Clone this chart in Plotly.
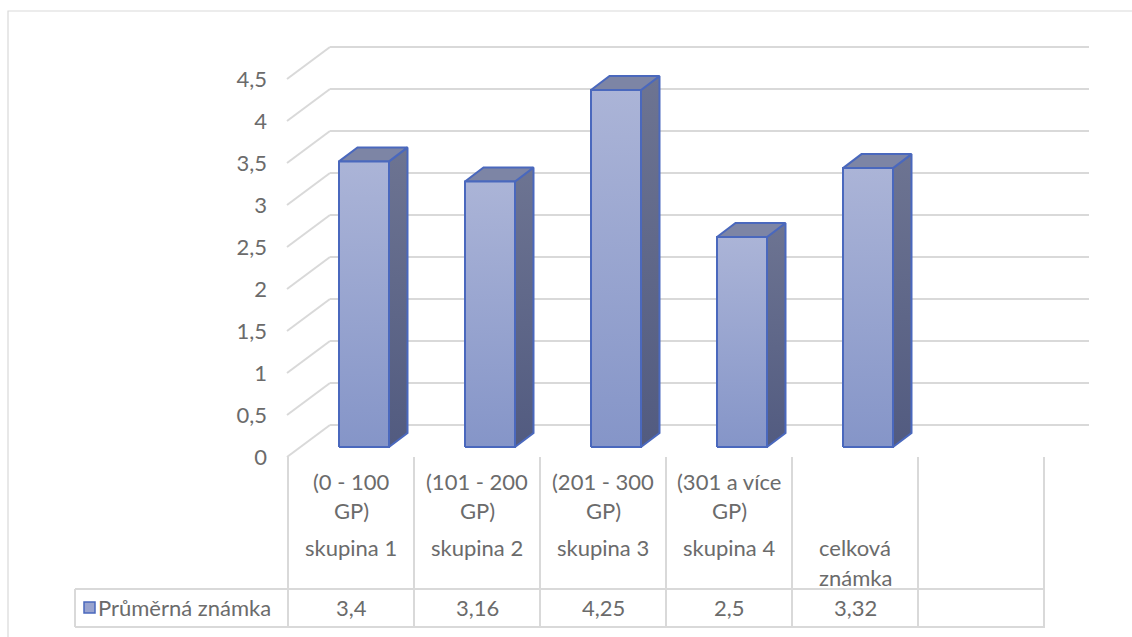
import plotly.graph_objects as go

# ---------------- data ----------------
series_name = "Průměrná známka"
cat_group = ["(0 - 100 GP)", "(101 - 200 GP)", "(201 - 300 GP)", "(301 a více GP)", ""]
cat_name = ["skupina 1", "skupina 2", "skupina 3", "skupina 4", "celková známka"]
values = [3.4, 3.16, 4.25, 2.5, 3.32]
value_labels = ["3,4", "3,16", "4,25", "2,5", "3,32"]
y_ticks = [0, 0.5, 1, 1.5, 2, 2.5, 3, 3.5, 4, 4.5]
n_slots = 6  # one empty slot at the end of the category axis

# ---------------- geometry (pixels) ----------------
W, H = 1132, 637
X0PX, SLOT = 364, 126        # centre of first bar front plane, slot width
Y0PX, UNIT = 447, 84         # baseline of bar front plane, px per unit


def X(px):
    return (px - X0PX) / SLOT


def Y(py):
    return (Y0PX - py) / UNIT


FONT = "Lato"
TXT = "#6b6b6b"
GRID = "#d9d9d9"
EDGE = "#4a68bd"

FLOOR_L, FLOOR_R = 287, 1044   # front floor edge (px)
BACK_L, BACK_R = 330, 1089     # back wall (px)
FLOOR_Y, BACK_Y = 457, 425     # y px for value 0
BAR_HALF = 25
DX, DY = 18.5, 14

fig = go.Figure()
shapes = []
annotations = []

# back wall gridlines and side wall diagonals
for t in y_ticks:
    yb = Y(BACK_Y - UNIT * t)
    yf = Y(FLOOR_Y - UNIT * t)
    shapes.append(dict(type="line", xref="x", yref="y", x0=X(BACK_L), x1=X(BACK_R),
                       y0=yb, y1=yb, line=dict(color=GRID, width=2), layer="below"))
    shapes.append(dict(type="line", xref="x", yref="y", x0=X(FLOOR_L), x1=X(BACK_L),
                       y0=yf, y1=yb, line=dict(color=GRID, width=2), layer="below"))

# bars
h = BAR_HALF / SLOT
dx = DX / SLOT
dy = DY / UNIT
for i, v in enumerate(values):
    # side face
    fig.add_trace(go.Scatter(
        x=[i + h, i + h + dx, i + h + dx, i + h, i + h],
        y=[0, dy, v + dy, v, 0], mode="lines", fill="toself",
        fillgradient=dict(type="vertical", colorscale=[[0, "#525b80"], [1, "#6d7492"]]),
        line=dict(color=EDGE, width=2), hoverinfo="skip", showlegend=False))
    # top face
    fig.add_trace(go.Scatter(
        x=[i - h, i + h, i + h + dx, i - h + dx, i - h],
        y=[v, v, v + dy, v + dy, v], mode="lines", fill="toself",
        fillcolor="#7d85a5", line=dict(color=EDGE, width=2),
        hoverinfo="skip", showlegend=False))
    # front face
    fig.add_trace(go.Scatter(
        x=[i - h, i + h, i + h, i - h, i - h],
        y=[0, 0, v, v, 0], mode="lines", fill="toself",
        fillgradient=dict(type="vertical", colorscale=[[0, "#8595c8"], [1, "#abb4d7"]]),
        line=dict(color=EDGE, width=2), hoverinfo="skip", showlegend=False,
        name=series_name))

# data table grid
TBL_TOP, TBL_BOT, TBL_LEFT = 589, 627, 75
for k in range(n_slots + 1):
    xp = FLOOR_L + 1 + SLOT * k
    shapes.append(dict(type="line", xref="x", yref="y", x0=X(xp), x1=X(xp),
                       y0=Y(FLOOR_Y), y1=Y(TBL_BOT), line=dict(color=GRID, width=2)))
for yp in (TBL_TOP, TBL_BOT):
    shapes.append(dict(type="line", xref="x", yref="y", x0=X(TBL_LEFT), x1=X(FLOOR_R + 1),
                       y0=Y(yp), y1=Y(yp), line=dict(color=GRID, width=2)))
shapes.append(dict(type="line", xref="x", yref="y", x0=X(TBL_LEFT), x1=X(TBL_LEFT),
                   y0=Y(TBL_TOP), y1=Y(TBL_BOT), line=dict(color=GRID, width=2)))

# legend key in table
shapes.append(dict(type="rect", xref="x", yref="y", x0=X(84), x1=X(95), y0=Y(613), y1=Y(602),
                   fillcolor="#98a3cf", line=dict(color=EDGE, width=1.5)))

# chart area border
shapes.append(dict(type="rect", xref="paper", yref="paper", x0=8 / W, x1=1.01,
                   y0=-0.01, y1=1 - 11 / H, line=dict(color=GRID, width=1.2), layer="below"))


def wrap(s):
    if not s:
        return []
    if s.endswith(" GP)"):
        return [s[:-4], "GP)"]
    if " " in s and len(s) > 10:
        return s.split(" ")
    return [s]


FS = 22
for i in range(len(values)):
    cx = X(FLOOR_L + 1 + SLOT * i + SLOT / 2)
    for j, line in enumerate(wrap(cat_group[i])):
        annotations.append(dict(x=cx, y=Y(481 + 29 * j), xref="x", yref="y", text=line,
                                showarrow=False, xanchor="center", yanchor="middle",
                                font=dict(family=FONT, size=FS, color=TXT)))
    for j, line in enumerate(wrap(cat_name[i])):
        annotations.append(dict(x=cx, y=Y(547 + 30 * j), xref="x", yref="y", text=line,
                                showarrow=False, xanchor="center", yanchor="middle",
                                font=dict(family=FONT, size=FS, color=TXT)))
    annotations.append(dict(x=cx, y=Y(607), xref="x", yref="y", text=value_labels[i],
                            showarrow=False, xanchor="center", yanchor="middle",
                            font=dict(family=FONT, size=FS, color=TXT)))

annotations.append(dict(x=X(96), y=Y(607), xref="x", yref="y", text=series_name,
                        showarrow=False, xanchor="left", yanchor="middle",
                        font=dict(family=FONT, size=FS, color=TXT)))

# invisible trace to carry the value axis labels
fig.add_trace(go.Scatter(x=[0, 0], y=[0, 4.5], yaxis="y2", mode="markers",
                         marker=dict(opacity=0), hoverinfo="skip", showlegend=False))


def fmt(t):
    s = f"{t:g}"
    return s.replace(".", ",")


fig.update_layout(
    width=W, height=H, margin=dict(l=0, r=0, t=0, b=0),
    paper_bgcolor="white", plot_bgcolor="white", showlegend=False,
    xaxis=dict(range=[X(0), X(W)], visible=False, fixedrange=True),
    yaxis=dict(range=[Y(H), Y(0)], visible=False, fixedrange=True),
    yaxis2=dict(overlaying="y", anchor="free", position=267 / W, side="left",
                range=[(FLOOR_Y - H) / UNIT, FLOOR_Y / UNIT],
                tickvals=y_ticks, ticktext=[fmt(t) for t in y_ticks],
                showgrid=False, zeroline=False, showline=False, ticks="",
                tickfont=dict(family=FONT, size=FS, color=TXT), fixedrange=True),
    shapes=shapes, annotations=annotations,
)

fig.write_html("out.html")
